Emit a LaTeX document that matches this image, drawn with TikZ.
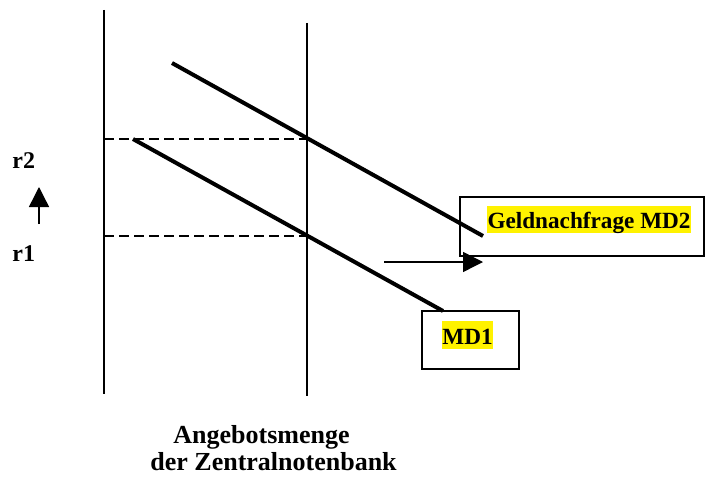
\documentclass[tikz,border=0pt]{standalone}
\usepackage{fontspec}
\setmainfont{Liberation Serif}
\usetikzlibrary{arrows.meta}
\begin{document}
\begin{tikzpicture}[>={Triangle[width=10pt,length=10pt]},x=0.5pt,y=-0.5pt,
	lbl/.style={font=\bfseries\fontsize{11.6}{14}\selectfont,inner sep=0pt},
	achse/.style={line width=#1},
	kurve/.style={line width=2pt},
	hilite/.style={lbl,fill=yellow,text height=11pt,text depth=2pt,inner sep=0.4pt},
	kasten/.style={draw,line width=1pt,inner sep=0pt}]
			\useasboundingbox (0,0) rectangle (705,476);
			\coordinate (lt) at (104,10); \coordinate (lb) at (104,394);
			\coordinate (mt) at (307,23); \coordinate (mb) at (307,396);
			\coordinate (d2) at (104,139); \coordinate (s2) at (307,139);
			\coordinate (d1) at (104,236); \coordinate (s1) at (307,236);
			\coordinate (a2) at (172,63); \coordinate (e2) at (483,236);
			\coordinate (a1) at (133,139); \coordinate (e1) at (443,311);
			\coordinate (pa) at (384,262); \coordinate (pe) at (483,262);
			\coordinate (ua) at (39,224); \coordinate (ue) at (39,187);
			\draw[achse=1.4pt] (lt)--(lb);
			\draw[achse=0.7pt] (mt)--(mb);
			\draw[line width=0.75pt,dash pattern=on 5pt off 2.5pt] (d2)--(s2) (d1)--(s1);
			\draw[kurve] (a2)--(e2);
			\draw[kurve] (a1)--(e1);
			\node[kasten,minimum width=122pt,minimum height=29.5pt] (box2) at (582,226.5) {};
			\node[hilite] (md2) at (589,219.5) {Geldnachfrage MD2};
			\node[kasten,minimum width=48.5pt,minimum height=29pt] (box1) at (470.5,340) {};
			\node[hilite] (md1) at (467.5,335) {MD1};
			\draw[->,line width=0.7pt] (pa)--(pe);
			\draw[->,line width=0.7pt] (ua)--(ue);
			\node[lbl,font=\bfseries\fontsize{12}{14}\selectfont,anchor=base west] (r2) at (12,168) {r2};
			\node[lbl,font=\bfseries\fontsize{12}{14}\selectfont,anchor=base west] (r1) at (12,261) {r1};
			\node[lbl,font=\bfseries\fontsize{13}{16}\selectfont,anchor=base west] (ang) at (173,443) {Angebotsmenge};
			\node[lbl,font=\bfseries\fontsize{13}{16}\selectfont,anchor=base west] (zb) at (150,470) {der Zentralnotenbank};
	\end{tikzpicture}
\end{document}
